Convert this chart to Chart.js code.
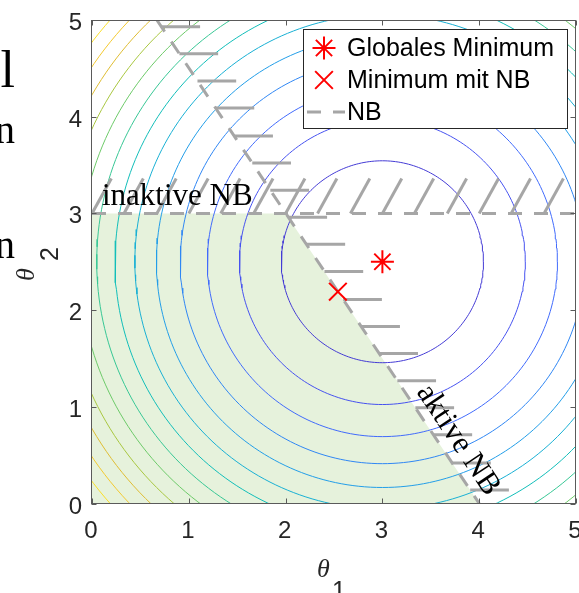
<!DOCTYPE html>
<html>
<head>
<meta charset="utf-8">
<script src="https://cdn.jsdelivr.net/npm/chart.js@4.4.0/dist/chart.umd.min.js"></script>
<style>
  body { margin: 0; background: #fff; }
  canvas { display: block; }
</style>
</head>
<body>
<canvas id="grafico" width="579" height="593"></canvas>
<script>
// Werte
var ticksX = [0, 1, 2, 3, 4, 5]
var ticksY = [0, 1, 2, 3, 4, 5]
var zentrum = [3, 2.5]
var niveaus = [1.09, 2.18, 3.27, 4.36, 5.45, 6.54, 7.63, 8.71, 9.80, 10.89, 11.98, 13.07, 14.16]
var niveauMax = 15.25
var globalesMin = [3, 2.5]
var minMitNB = [2.54, 2.19]
var zulaessigX = [0, 2, 4]
var zulaessigY = [3, 3, 0]
var inaktivX = [0, 5]
var inaktivY = [3, 3]
var aktivX = [0.67, 4]
var aktivY = [5, 0]
var schraffurInaktivX = [0, 0.33, 0.67, 1, 1.33, 1.67, 2, 2.33, 2.67, 3, 3.33, 3.67, 4, 4.33, 4.67]
var schraffurAktivY = [4.93, 4.65, 4.37, 4.09, 3.80, 3.52, 3.24, 2.96, 2.68, 2.40, 2.11, 1.83, 1.55, 1.27, 0.99, 0.71, 0.42, 0.14]
var schraffurInaktivVek = [0.2, 0.36]
var schraffurAktivLaenge = 0.4

var grau = 'rgb(166,166,166)'
var gruen = 'rgb(230,242,220)'

// parula
var parula = [
    [62, 38, 168], [71, 67, 231], [68, 102, 253], [45, 140, 243], [28, 171, 223],
    [18, 190, 185], [72, 203, 134], [158, 201, 66], [234, 187, 49], [250, 212, 46], [249, 251, 21]
]
function farbe(t) {
    var p = t * (parula.length - 1)
    var i = Math.min(Math.floor(p), parula.length - 2)
    var f = p - i
    var c = parula[i].map((v, k) => Math.round(v + (parula[i + 1][k] - v) * f))
    return 'rgb(' + c.join(',') + ')'
}

var datasets = []

// zulaessiger Bereich
datasets.push({
    data: zulaessigX.map((x, i) => ({ x: x, y: zulaessigY[i] })),
    showLine: true, borderWidth: 0, pointRadius: 0,
    backgroundColor: gruen, fill: 'origin', order: 10
})

// Hoehenlinien
niveaus.forEach(n => {
    var r = Math.sqrt(n)
    var pts = []
    for (var i = 0; i <= 240; i++) {
        var a = i / 240 * 2 * Math.PI
        pts.push({ x: zentrum[0] + r * Math.cos(a), y: zentrum[1] + r * Math.sin(a) })
    }
    datasets.push({
        data: pts, showLine: true, borderWidth: 1, pointRadius: 0,
        borderColor: farbe(n / niveauMax), fill: false, order: 8
    })
})

// Nebenbedingungen
var nbStil = { showLine: true, borderWidth: 3, pointRadius: 0, borderColor: grau, borderDash: [14, 12], fill: false, order: 6 }
datasets.push(Object.assign({ data: inaktivX.map((x, i) => ({ x: x, y: inaktivY[i] })) }, nbStil))
datasets.push(Object.assign({ data: aktivX.map((x, i) => ({ x: x, y: aktivY[i] })) }, nbStil))

var schraffurStil = { showLine: true, borderWidth: 3, pointRadius: 0, borderColor: grau, fill: false, order: 6 }
schraffurInaktivX.forEach(x => {
    datasets.push(Object.assign({ data: [{ x: x, y: 3 }, { x: x + schraffurInaktivVek[0], y: 3 + schraffurInaktivVek[1] }] }, schraffurStil))
})
schraffurAktivY.forEach(y => {
    // Punkt auf der Geraden
    var t = (aktivY[0] - y) / (aktivY[0] - aktivY[1])
    var x = aktivX[0] + t * (aktivX[1] - aktivX[0])
    datasets.push(Object.assign({ data: [{ x: x, y: y }, { x: x + schraffurAktivLaenge, y: y }] }, schraffurStil))
})

// Minima
var sternStil = { pointStyle: 'star', pointRadius: 11.5, borderWidth: 2, borderColor: 'rgb(255,0,0)', backgroundColor: 'rgb(255,0,0)' }
var kreuzStil = { pointStyle: 'crossRot', pointRadius: 12.5, borderWidth: 2, borderColor: 'rgb(255,0,0)', backgroundColor: 'rgb(255,0,0)' }
datasets.push(Object.assign({ data: [{ x: globalesMin[0], y: globalesMin[1] }], order: 1 }, sternStil))
datasets.push(Object.assign({ data: [{ x: minMitNB[0], y: minMitNB[1] }], order: 1 }, kreuzStil))

var sans = '"Liberation Sans", Arial, sans-serif'
var serif = '"Liberation Serif", "Times New Roman", serif'

var rahmen = {
    id: 'rahmen',
    afterDraw(chart) {
        var ctx = chart.ctx
        var a = chart.chartArea
        var sx = chart.scales.x, sy = chart.scales.y
        ctx.save()
        // Rahmen und Ticks nach innen
        ctx.strokeStyle = 'rgb(90,90,90)'
        ctx.lineWidth = 1
        var l = Math.round(a.left) - 0.5, r = Math.round(a.right) - 0.5
        var t = Math.round(a.top) + 0.5, b = Math.round(a.bottom) - 0.5
        ctx.strokeRect(l, t, r - l, b - t)
        ctx.beginPath()
        ticksX.forEach(v => {
            var p = Math.round(sx.getPixelForValue(v)) + 0.5
            ctx.moveTo(p, b); ctx.lineTo(p, b - 5)
            ctx.moveTo(p, t); ctx.lineTo(p, t + 5)
        })
        ticksY.forEach(v => {
            var p = Math.round(sy.getPixelForValue(v)) + 0.5
            ctx.moveTo(l, p); ctx.lineTo(l + 5, p)
            ctx.moveTo(r, p); ctx.lineTo(r - 5, p)
        })
        ctx.stroke()

        // Tickbeschriftungen
        ctx.fillStyle = '#262626'
        ctx.font = '24px ' + sans
        ctx.textBaseline = 'alphabetic'
        ctx.textAlign = 'center'
        ticksX.forEach(v => ctx.fillText(String(v), sx.getPixelForValue(v) - 1, a.bottom + 34))
        ctx.textAlign = 'right'
        ticksY.forEach(v => ctx.fillText(String(v), a.left - 10, sy.getPixelForValue(v) + 10))

        // Beschriftungen
        ctx.fillStyle = '#000'
        ctx.textAlign = 'left'
        ctx.font = '31px ' + serif
        ctx.fillText('inaktive NB', 102, 205)

        ctx.save()
        ctx.translate(458, 440)
        ctx.rotate(56.25 * Math.PI / 180)
        ctx.textAlign = 'center'
        ctx.textBaseline = 'middle'
        ctx.fillText('aktive NB', 0, 0)
        ctx.restore()

        // abgeschnittener Text am linken Rand
        ctx.textAlign = 'right'
        ctx.font = '52px ' + serif
        ctx.fillText('l', 15, 87)
        ctx.font = '40px ' + serif
        ctx.fillText('n', 15, 143)
        ctx.fillText('n', 15, 258)

        // Achsentitel
        ctx.fillStyle = '#262626'
        ctx.textAlign = 'left'
        ctx.font = 'italic 26px ' + serif
        ctx.fillText('\u03b8', 317, 577)
        ctx.font = '25px ' + sans
        ctx.fillText('1', 332, 599)

        ctx.save()
        ctx.translate(33.5, 281)
        ctx.rotate(-Math.PI / 2)
        ctx.font = 'italic 26px ' + serif
        ctx.fillText('\u03b8', 0, 0)
        ctx.font = '25px ' + sans
        ctx.fillText('2', 20, 24)
        ctx.restore()

        // Legende
        var lx = 303, ly = 29, lw = 264, lh = 99
        ctx.fillStyle = '#fff'
        ctx.fillRect(lx, ly, lw, lh)
        ctx.strokeStyle = 'rgb(38,38,38)'
        ctx.lineWidth = 1
        ctx.strokeRect(lx + 0.5, ly + 0.5, lw, lh)
        var eintraege = ['Globales Minimum', 'Minimum mit NB', 'NB']
        var zeilen = [48, 80, 112]
        ctx.save()
        ctx.strokeStyle = 'rgb(255,0,0)'
        ctx.lineWidth = 2
        Chart.helpers.drawPoint(ctx, { pointStyle: 'star', radius: 11.5, borderWidth: 2, rotation: 0 }, 324, zeilen[0])
        Chart.helpers.drawPoint(ctx, { pointStyle: 'crossRot', radius: 12.5, borderWidth: 2, rotation: 0 }, 324, zeilen[1])
        ctx.restore()
        ctx.strokeStyle = grau
        ctx.lineWidth = 3
        ctx.setLineDash([14, 12])
        ctx.beginPath()
        ctx.moveTo(307, zeilen[2]); ctx.lineTo(345, zeilen[2])
        ctx.stroke()
        ctx.setLineDash([])
        ctx.fillStyle = '#000'
        ctx.font = '25px ' + sans
        ctx.textAlign = 'left'
        ctx.textBaseline = 'middle'
        eintraege.forEach((e, i) => ctx.fillText(e, 347, zeilen[i] + 1))
        ctx.restore()
    }
}

var achse = (werte) => ({
    type: 'linear', min: 0, max: 5,
    afterBuildTicks: s => { s.ticks = werte.map(v => ({ value: v })) },
    grid: { display: false, drawTicks: false },
    border: { display: false },
    ticks: { display: false }
})

var xAchse = achse(ticksX)
xAchse.afterFit = s => { s.height = 89.5 }
var yAchse = achse(ticksY)
yAchse.afterFit = s => { s.width = 92 }

var ctx = document.getElementById('grafico')
var grafik = new Chart(ctx, {
    type: 'scatter',
    data: { datasets: datasets },
    options: {
        responsive: false,
        devicePixelRatio: 1,
        animation: false,
        events: [],
        layout: { autoPadding: false, padding: { top: 20, right: 3, left: 0, bottom: 0 } },
        plugins: { legend: { display: false }, tooltip: { enabled: false } },
        scales: { x: xAchse, y: yAchse }
    },
    plugins: [rahmen]
})
</script>
</body>
</html>
